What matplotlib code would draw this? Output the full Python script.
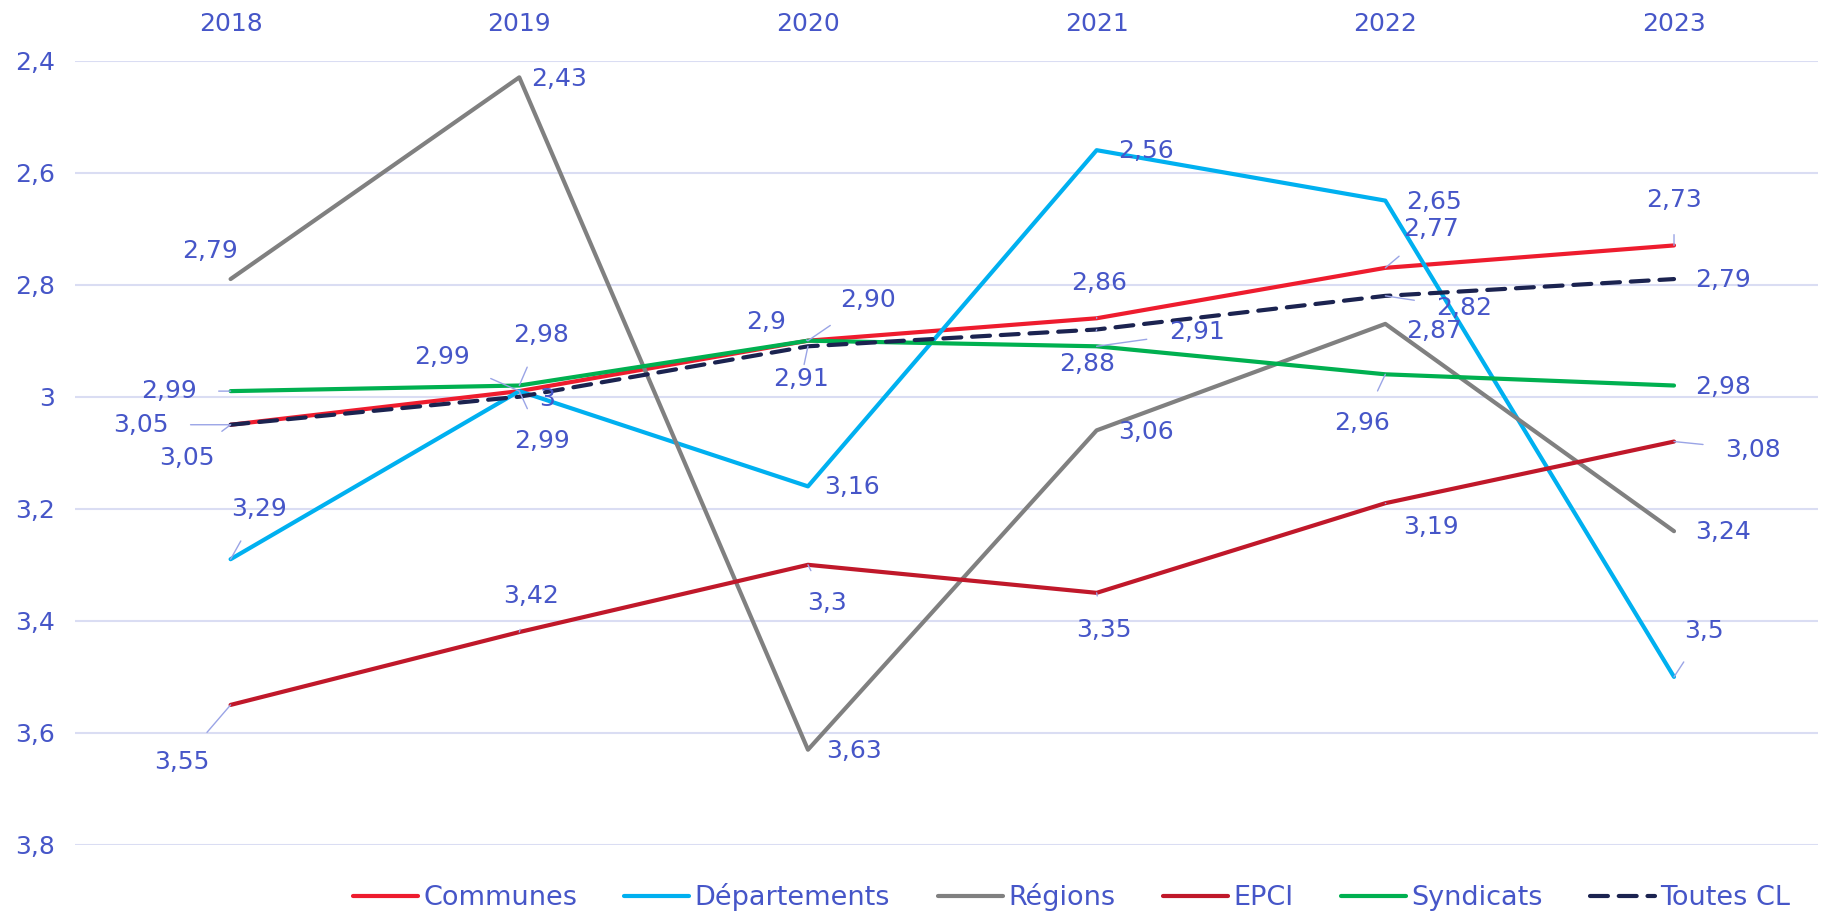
import matplotlib
matplotlib.use("Agg")
import matplotlib.pyplot as plt
from matplotlib.ticker import FuncFormatter

# --- données ---
years = ["2018", "2019", "2020", "2021", "2022", "2023"]
communes = [3.05, 2.99, 2.90, 2.86, 2.77, 2.73]
departements = [3.29, 2.99, 3.16, 2.56, 2.65, 3.50]
regions = [2.79, 2.43, 3.63, 3.06, 2.87, 3.24]
epci = [3.55, 3.42, 3.30, 3.35, 3.19, 3.08]
syndicats = [2.99, 2.98, 2.90, 2.91, 2.96, 2.98]
toutes_cl = [3.05, 3.00, 2.91, 2.88, 2.82, 2.79]

TXT = "#4656C8"
LEAD = "#9AA4E6"

# nom, valeurs, couleur, style, format fixe 2 décimales ?
series = [
    ("Communes", communes, "#EE1C2E", "-", False),
    ("Départements", departements, "#00B0F0", "-", False),
    ("Régions", regions, "#808080", "-", False),
    ("EPCI", epci, "#C0182A", "-", False),
    ("Syndicats", syndicats, "#00B050", "-", True),
    ("Toutes CL", toutes_cl, "#1B2350", "--", False),
]

# position des étiquettes (décalage en pixels, vers le haut = positif, leader oui/non)
label_pos = {
    "Communes": [(-90, 0, 1), (-77, 34, 1), (-42, 19, 1), (2, 35, 1), (46, 39, 1), (0, 45, 1)],
    "Départements": [(28, 50, 1), (23, -50, 1), (44, -1, 0), (49, -1, 0), (49, -1, 0), (30, 46, 1)],
    "Régions": [(-21, 28, 0), (40, -2, 0), (46, -1, 0), (49, -2, 0), (49, -7, 0), (49, -1, 0)],
    "EPCI": [(-49, -57, 1), (12, 36, 1), (19, -38, 1), (7, -37, 1), (46, -24, 1), (79, -8, 1)],
    "Syndicats": [(-62, 0, 1), (22, 51, 1), (60, 41, 1), (100, 14, 1), (-23, -49, 1), (49, -1, 0)],
    "Toutes CL": [(-44, -33, 1), (28, -2, 0), (-7, -33, 1), (-10, -35, 1), (79, -12, 1), (49, -1, 0)],
}


def fmt_general(v):
    s = ("%.2f" % v).rstrip("0").rstrip(".")
    return s.replace(".", ",")


plt.rcParams["font.family"] = ["DejaVu Sans"]

fig = plt.figure(figsize=(18.22, 9.13), dpi=100)
ax = fig.add_axes([0.041, 0.0745, 0.957, 0.8592])

x = list(range(len(years)))
for name, vals, col, ls, fixed in series:
    if ls == "--":
        ax.plot(x, vals, color=col, lw=3, ls=(0, (4.3, 2.6)), label=name,
                solid_capstyle="round", dash_capstyle="round", zorder=4)
    else:
        ax.plot(x, vals, color=col, lw=3, label=name, solid_capstyle="round", zorder=3)
    for i, v in enumerate(vals):
        dx, dy, lead = label_pos[name][i]
        txt = ("%.2f" % v).replace(".", ",") if fixed else fmt_general(v)
        ap = None
        if lead:
            ap = dict(arrowstyle="-", color=LEAD, lw=1, shrinkA=14, shrinkB=0)
        ax.annotate(txt, (i, v), xytext=(dx, dy), textcoords="offset pixels",
                    ha="center", va="center", fontsize=18, color=TXT,
                    arrowprops=ap, zorder=6)

ax.set_xlim(-0.54, 5.5)
ax.set_ylim(3.8, 2.4)
ax.set_yticks([2.4, 2.6, 2.8, 3.0, 3.2, 3.4, 3.6, 3.8])
ax.yaxis.set_major_formatter(FuncFormatter(lambda v, p: fmt_general(v)))
ax.set_xticks(x)
ax.set_xticklabels(years)
ax.xaxis.tick_top()
ax.tick_params(axis="both", length=0, labelsize=18, colors=TXT)
ax.tick_params(axis="x", pad=18)
ax.tick_params(axis="y", pad=14)
ax.grid(axis="y", color="#DADDF3", lw=1.5)
ax.set_axisbelow(True)
for s in ax.spines.values():
    s.set_visible(False)

leg = fig.legend(loc="center right", bbox_to_anchor=(0.996, 0.017), ncol=6,
                 frameon=False, fontsize=19.5, handlelength=2.4, columnspacing=1.75,
                 handletextpad=0.2, labelcolor=TXT)

fig.savefig("out.png", dpi=100)
